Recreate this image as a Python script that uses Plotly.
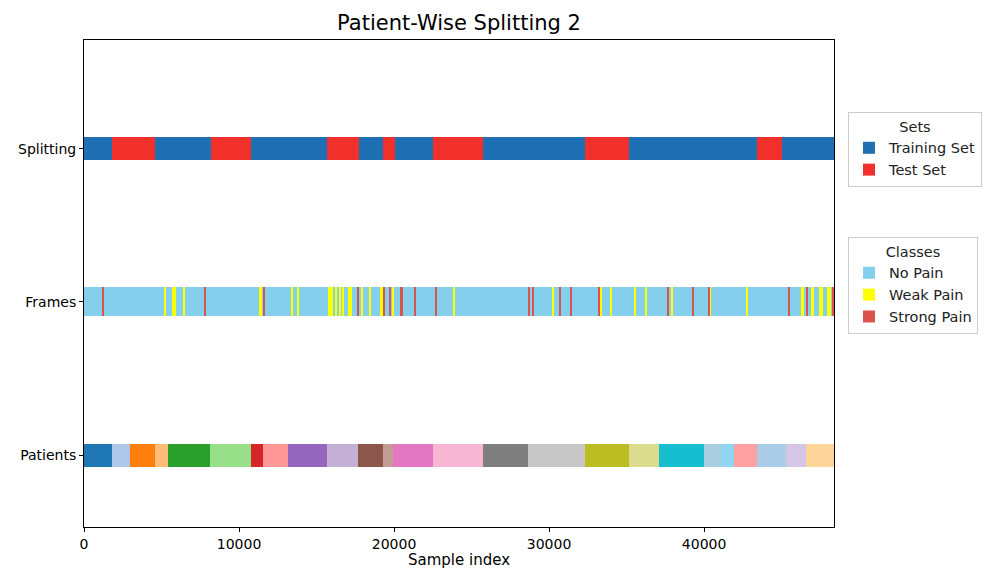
import plotly.graph_objects as go

# ---------------- data ----------------
row_labels = ["Patients", "Frames", "Splitting"]
x_max = 48380

# Splitting: segment boundaries and set labels
split_bounds = [0, 1790, 4570, 8170, 10800, 15690, 17720, 19310, 20060, 22500,
                25750, 32330, 35150, 43430, 45020, 48380]
split_sets = ["Training", "Test", "Training", "Test", "Training", "Test", "Training", "Test",
              "Training", "Test", "Training", "Test", "Training", "Test", "Training"]

# Patients: segment boundaries and colours
patient_bounds = [0, 1790, 2935, 4570, 5410, 8105, 10800, 11550, 13170, 15650, 17690,
                  19310, 19955, 22500, 25750, 28660, 32330, 35150, 37110, 39970, 41070,
                  41910, 43400, 45300, 46570, 48380]
patient_colors = ["#1f77b4", "#aec7e8", "#ff7f0e", "#ffbb78", "#2ca02c", "#98df8a",
                  "#d62728", "#ff9896", "#9467bd", "#c5b0d5", "#8c564b", "#c49c94",
                  "#e377c2", "#f7b6d2", "#7f7f7f", "#c7c7c7", "#bcbd22", "#dbdb8d",
                  "#17becf", "#a9cfe0", "#8fd6f2", "#ffa0a2", "#abcde8", "#d6c6e6",
                  "#fdd59b"]

# Frames: pain events (start, end, class) on a No Pain background
frame_start = [1200, 5210, 5695, 6395, 7800, 11350, 11570, 13400, 13790, 15753, 16246,
               16505, 16673, 17061, 17216, 17668, 17927, 18399, 19155, 19323, 19692,
               19905, 20448, 21288, 22665, 23829, 28677, 28954, 30247, 30681, 31372,
               33200, 33316, 33939, 35490, 36201, 37616, 37901, 39258, 40267, 40377,
               42704, 45464, 46244, 46582, 46891, 47427, 47925, 48229]
frame_end = [1300, 5310, 5954, 6495, 7900, 11450, 11670, 13500, 13890, 16077, 16346,
             16605, 16773, 17161, 17316, 17768, 18027, 18499, 19255, 19423, 19792,
             20005, 20548, 21388, 22765, 23929, 28777, 29054, 30347, 30781, 31472,
             33300, 33426, 34039, 35590, 36301, 37716, 38001, 39358, 40367, 40477,
             42804, 45564, 46419, 46682, 47065, 47647, 48184, 48380]
frame_class = ["Strong", "Weak", "Weak", "Weak", "Strong", "Weak", "Strong", "Weak", "Weak",
               "Weak", "Weak", "Weak", "Weak", "Weak", "Weak", "Strong", "Weak", "Weak",
               "Weak", "Strong", "Strong", "Weak", "Strong", "Strong", "Strong", "Weak",
               "Strong", "Strong", "Weak", "Strong", "Strong", "Strong", "Weak", "Weak",
               "Weak", "Weak", "Strong", "Weak", "Strong", "Strong", "Weak", "Weak",
               "Strong", "Weak", "Strong", "Weak", "Weak", "Weak", "Strong"]

x_ticks = [0, 10000, 20000, 30000, 40000]

# ---------------- styles ----------------
set_colors = {"Training": "#1f6fb4", "Test": "#f2302b"}
set_names = {"Training": "Training Set", "Test": "Test Set"}
class_colors = {"No": "#84cfec", "Weak": "#ffff00", "Strong": "#d9534f"}
class_names = {"No": "No Pain", "Weak": "Weak Pain", "Strong": "Strong Pain"}
FONT = "DejaVu Sans"

# page body has an 8px margin; figure sized so the plot lands at window coords
OFF = 8
W, H = 995 - 2 * OFF, 578 - 2 * OFF
PL, PR, PT, PB = 84, 834, 40, 527   # plot area in window coordinates

fig = go.Figure()

# Splitting row
for s in ["Training", "Test"]:
    bases, lens = [], []
    for i, lab in enumerate(split_sets):
        if lab == s:
            bases.append(split_bounds[i])
            lens.append(split_bounds[i + 1] - split_bounds[i])
    fig.add_trace(go.Bar(
        orientation="h", y=[2] * len(bases), x=lens, base=bases, width=0.15,
        marker=dict(color=set_colors[s], line=dict(width=0)),
        name=set_names[s], legend="legend", hoverinfo="skip"))

# Frames row
fig.add_trace(go.Bar(
    orientation="h", y=[1], x=[x_max], base=[0], width=0.19,
    marker=dict(color=class_colors["No"], line=dict(width=0)),
    name=class_names["No"], legend="legend2", hoverinfo="skip"))
for c in ["Weak", "Strong"]:
    bases, lens = [], []
    for st, en, cl in zip(frame_start, frame_end, frame_class):
        if cl == c:
            bases.append(st)
            lens.append(en - st)
    fig.add_trace(go.Bar(
        orientation="h", y=[1] * len(bases), x=lens, base=bases, width=0.19,
        marker=dict(color=class_colors[c], line=dict(width=0)),
        name=class_names[c], legend="legend2", hoverinfo="skip"))

# Patients row
p_bases = patient_bounds[:-1]
p_lens = [patient_bounds[i + 1] - patient_bounds[i] for i in range(len(p_bases))]
fig.add_trace(go.Bar(
    orientation="h", y=[0] * len(p_bases), x=p_lens, base=p_bases, width=0.15,
    marker=dict(color=patient_colors, line=dict(width=0)),
    showlegend=False, hoverinfo="skip"))

legend_common = dict(
    bgcolor="white", bordercolor="#cccccc", borderwidth=1,
    font=dict(family=FONT, size=14.5, color="#222"),
    xanchor="left", yanchor="top", itemsizing="constant", tracegroupgap=2,
)

plot_w = PR - PL
plot_h = PB - PT

fig.update_layout(
    width=W, height=H,
    margin=dict(l=PL - OFF, r=W - (PR - OFF), t=PT - OFF, b=H - (PB - OFF), autoexpand=False),
    plot_bgcolor="white", paper_bgcolor="white",
    barmode="overlay", bargap=0,
    font=dict(family=FONT, size=14, color="black"),
    title=dict(text="Patient-Wise Splitting 2", x=((PL + PR) / 2 - OFF) / W, xanchor="center",
               y=1 - (23 - OFF) / H, yanchor="middle",
               font=dict(family=FONT, size=21, color="black")),
    xaxis=dict(range=[0, x_max], tickvals=x_ticks, ticktext=[str(t) for t in x_ticks],
               showgrid=False, zeroline=False, showline=True, linecolor="black",
               linewidth=1, mirror=True, ticks="outside", ticklen=4, tickcolor="black",
               automargin=False, tickfont=dict(family=FONT, size=14)),
    yaxis=dict(range=[-0.47, 2.71], tickvals=[0, 1, 2], ticktext=row_labels,
               showgrid=False, zeroline=False, showline=True, linecolor="black",
               linewidth=1, mirror=True, ticks="outside", ticklen=4, tickcolor="black",
               automargin=False,
               tickfont=dict(family=FONT, size=14)),
    annotations=[dict(text="Sample index", xref="paper", yref="paper",
                      x=0.5, y=-(560 - PB) / plot_h, xanchor="center", yanchor="middle",
                      showarrow=False, font=dict(family=FONT, size=15, color="black"))],
    legend=dict(x=(848 - PL) / plot_w, y=(PB - 112) / plot_h,
                title=dict(text="Sets", side="top center",
                           font=dict(family=FONT, size=14.5)),
                **legend_common),
    legend2=dict(x=(848 - PL) / plot_w, y=(PB - 237) / plot_h,
                 title=dict(text="Classes", side="top center",
                            font=dict(family=FONT, size=14.5)),
                 **legend_common),
)

fig.write_html("out.html")
